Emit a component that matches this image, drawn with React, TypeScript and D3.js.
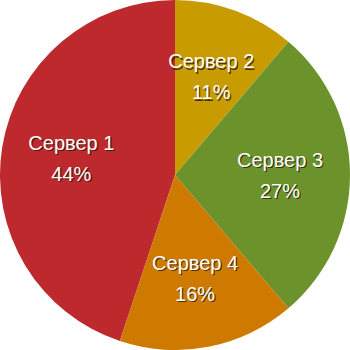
import React from "react";
import * as d3 from "d3";

const categories = ["Сервер 1", "Сервер 2", "Сервер 3", "Сервер 4"];
const values = [44, 11, 27, 16];
const colors = ["#bd292d", "#c89b00", "#6b922b", "#ce7a00"];

const W = 350;
const H = 350;
const R = 175;
const LABEL_R = 105;

export default function App() {
  const total = d3.sum(values);
  // first slice ends at 12 o'clock, the rest follow clockwise from there
  const start = -(values[0] / total) * 2 * Math.PI;
  const pie = d3
    .pie<number>()
    .sort(null)
    .startAngle(start)
    .endAngle(start + 2 * Math.PI);
  const arcs = pie(values);
  const arc = d3.arc<d3.PieArcDatum<number>>().innerRadius(0).outerRadius(R);
  const labelArc = d3
    .arc<d3.PieArcDatum<number>>()
    .innerRadius(LABEL_R)
    .outerRadius(LABEL_R);

  return (
    <svg
      width={W}
      height={H}
      style={{ position: "absolute", left: 0, top: 0, display: "block" }}
    >
      <g transform={`translate(${W / 2},${H / 2})`}>
        {arcs.map((a, i) => (
          <path key={i} d={arc(a) || ""} fill={colors[i]} />
        ))}
        {arcs.map((a, i) => {
          const [x, y] = labelArc.centroid(a);
          const pct = `${values[i]}%`;
          const lines = [categories[i], pct];
          return (
            <g
              key={`l${i}`}
              fontFamily="Liberation Sans, Arial, sans-serif"
              fontSize={20}
              textAnchor="middle"
            >
              {lines.map((t, j) => (
                <g key={j}>
                  <text
                    x={x + 1.2}
                    y={y - 8 + j * 31 + 1.2}
                    fill="rgba(40,20,0,0.75)"
                  >
                    {t}
                  </text>
                  <text x={x} y={y - 8 + j * 31} fill="#ffffff">
                    {t}
                  </text>
                </g>
              ))}
            </g>
          );
        })}
      </g>
    </svg>
  );
}
